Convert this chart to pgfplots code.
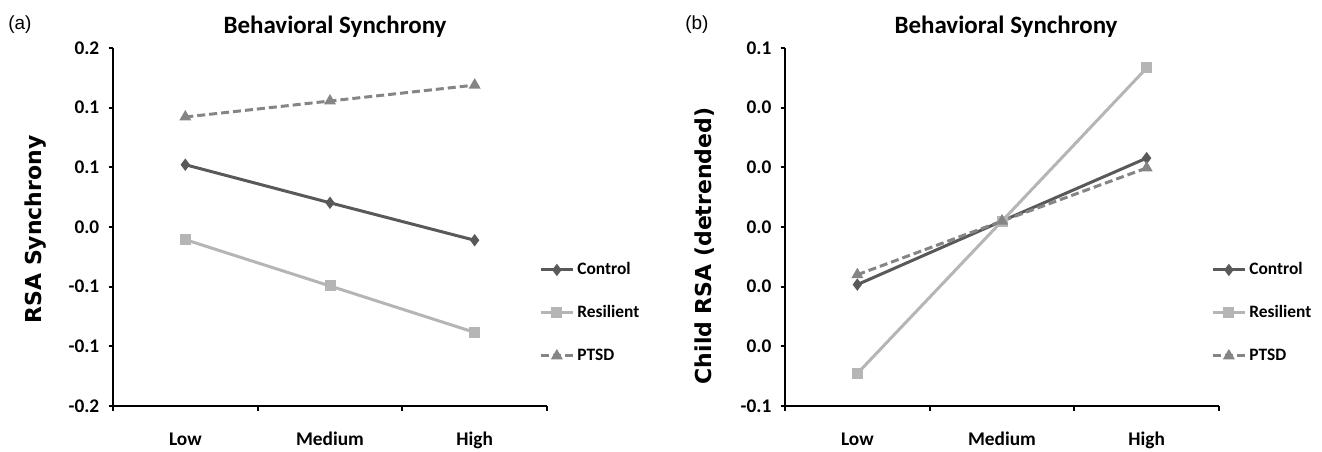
\documentclass[border=0pt]{standalone}
\usepackage{fontspec}
\setmainfont{Carlito}
\newfontfamily\verd{DejaVu Sans}
\newfontfamily\arial{Liberation Sans}
\usepackage{pgfplots}
\pgfplotsset{compat=1.18}

\definecolor{ctrl}{HTML}{595959}
\definecolor{resil}{HTML}{B5B5B5}
\definecolor{ptsd}{HTML}{858585}

\pgfplotsset{
  rsa/.style={
    scale only axis, width=86.8mm, height=71.6mm,
    anchor=south west,
    axis x line=bottom, axis y line=left,
    axis line style={-, line width=0.45mm, black},
    xmin=0.5, xmax=3.5,
    xtick={0.5,1.5,2.5,3.5}, xticklabels={},
    extra x ticks={1,2,3}, extra x tick labels={Low,Medium,High},
    extra x tick style={major tick length=0pt},
    scaled y ticks=false,
    tick align=outside, major tick length=0.9mm,
    tick style={line width=0.4mm, black},
    tick label style={font=\fontsize{11}{13}\selectfont\bfseries},
    xticklabel style={anchor=base, yshift=-7.9mm},
    yticklabel style={xshift=-0.6mm},
    clip=false,
    legend style={at={(0.9816,0.26)}, anchor=west, draw=none, fill=none,
      inner sep=0pt, font=\fontsize{9.9}{11}\selectfont\bfseries,
      row sep=5.6mm,
      nodes={inner sep=0pt, text height=2.4mm, text depth=0.6mm},
      /tikz/every odd column/.append style={column sep=0.6mm}},
    legend cell align=left,
    legend image code/.code={\draw[##1, mark repeat=2, mark phase=2]
      plot coordinates {(0mm,0mm) (3.2mm,0mm) (6.4mm,0mm)};},
  },
  ctrlline/.style={color=ctrl, line width=0.6mm, mark=diamond*, mark size=0.75mm},
  resline/.style={color=resil, line width=0.6mm, mark=square*, mark size=0.8mm},
  ptsdline/.style={color=ptsd, line width=0.6mm, dash pattern=on 1.6mm off 0.8mm,
    mark=triangle*, mark size=0.8mm, mark options={solid}},
}

\begin{document}
\begin{tikzpicture}
\useasboundingbox (0,0) rectangle (264.4mm,90.2mm);

% (a) RSA synchrony
\begin{axis}[rsa, at={(22.6mm,9mm)},
  ymin=-0.15, ymax=0.15,
  ytick={-0.15,-0.1,-0.05,0,0.05,0.1,0.15},
  yticklabels={-0.2,-0.1,-0.1,0.0,0.1,0.1,0.2}]
\addplot[ctrlline] coordinates {(1,0.0522) (2,0.0203) (3,-0.0111)};
\addlegendentry{Control}
\addplot[resline] coordinates {(1,-0.0106) (2,-0.0494) (3,-0.0883)};
\addlegendentry{Resilient}
\addplot[ptsdline] coordinates {(1,0.0922) (2,0.1056) (3,0.1189)};
\addlegendentry{PTSD}
\end{axis}

% (b) child RSA
\begin{axis}[rsa, at={(157mm,9mm)},
  ymin=-0.06, ymax=0.06,
  ytick={-0.06,-0.04,-0.02,0,0.02,0.04,0.06},
  yticklabels={-0.1,0.0,0.0,0.0,0.0,0.0,0.1}]
\addplot[ctrlline] coordinates {(1,-0.0193) (2,0.0020) (3,0.0231)};
\addlegendentry{Control}
\addplot[resline] coordinates {(1,-0.0491) (2,0.0020) (3,0.0533)};
\addlegendentry{Resilient}
\addplot[ptsdline] coordinates {(1,-0.0160) (2,0.0020) (3,0.0198)};
\addlegendentry{PTSD}
\end{axis}

\node[anchor=base, font=\fontsize{14.2}{16}\selectfont\bfseries] at (67mm,83.6mm) {Behavioral Synchrony};
\node[anchor=base, font=\fontsize{14.2}{16}\selectfont\bfseries] at (201.2mm,83.6mm) {Behavioral Synchrony};
\node[anchor=base west, inner sep=0pt, font=\arial\fontsize{10.8}{12}\selectfont] at (1.6mm,84.4mm) {(a)};
\node[anchor=base west, inner sep=0pt, font=\arial\fontsize{10.8}{12}\selectfont] at (137mm,84.4mm) {(b)};
\node[rotate=90, inner sep=0pt, font=\verd\fontsize{12.5}{14}\selectfont\bfseries] at (7.1mm,44.3mm) {RSA Synchrony};
\node[rotate=90, inner sep=0pt, font=\verd\fontsize{12.5}{14}\selectfont\bfseries] at (141mm,41mm) {Child RSA (detrended)};
\end{tikzpicture}
\end{document}
